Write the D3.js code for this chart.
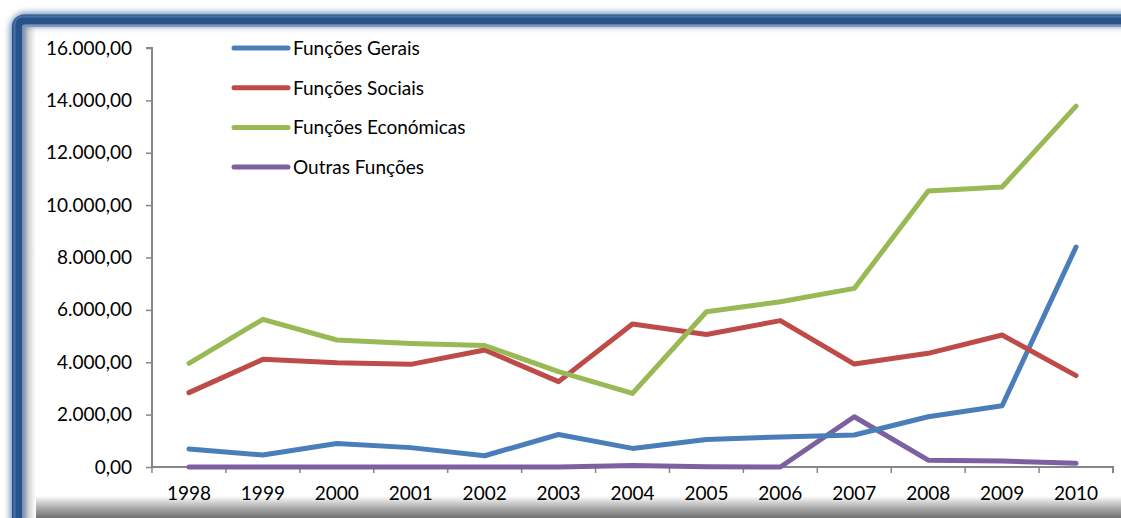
<!DOCTYPE html>
<html>
<head>
<meta charset="utf-8">
<script src="https://cdn.jsdelivr.net/npm/d3@7"></script>
<style>
  body { margin: 0; background: #fff; }
  #graph { width: 1121px; height: 518px; }
  text { font-family: Lato, "Open Sans", sans-serif; fill: #000; }
</style>
</head>
<body>
<div id="graph"></div>
<script>
var years = ["1998","1999","2000","2001","2002","2003","2004","2005","2006","2007","2008","2009","2010"]
var gerais = [690, 460, 900, 740, 430, 1240, 710, 1050, 1150, 1220, 1920, 2340, 8400]
var sociais = [2840, 4110, 3980, 3920, 4470, 3260, 5460, 5060, 5590, 3930, 4340, 5040, 3490]
var economicas = [3960, 5640, 4850, 4720, 4640, 3640, 2810, 5930, 6310, 6820, 10540, 10690, 13780]
var outras = [0, 0, 0, 0, 0, 0, 60, 10, 0, 1920, 260, 230, 140]
var seriesNames = ["Funções Gerais", "Funções Sociais", "Funções Económicas", "Outras Funções"]
var seriesColors = ["#4A7EBB", "#BE4B48", "#98B954", "#7D60A0"]
var yTicks = [0, 2000, 4000, 6000, 8000, 10000, 12000, 14000, 16000]

var width = 1121, height = 518
var margin = {top:48, left:152, bottom:51, right:8}
var chartWidth = 1113 - margin.left
var chartHeight = 467 - margin.top

var svg = d3.select("#graph").append("svg").attr("width", width).attr("height", height)
var defs = svg.append("defs")

function grad(id, x2, y2, stops) {
    var g = defs.append("linearGradient").attr("id", id)
        .attr("x1", 0).attr("y1", 0).attr("x2", x2).attr("y2", y2)
    stops.forEach(function(s) {
        g.append("stop").attr("offset", s[0]).attr("stop-color", s[1])
    })
}

function blur(id, sd) {
    defs.append("filter").attr("id", id)
        .attr("x", "-5%").attr("y", "-5%").attr("width", "110%").attr("height", "110%")
        .append("feGaussianBlur").attr("stdDeviation", sd)
}

function drawFrame() {
    blur("glow", 3)
    blur("soft", 0.7)
    grad("shadeLeft", 1, 0, [[0, "#8c8c8c"], [0.4, "#cfcfcf"], [1, "#ffffff"]])
    grad("shadeBottom", 0, 1, [[0, "#ffffff"], [0.5, "#b0b0b0"], [1, "#707070"]])

    // inner shading of the chart area
    svg.append("rect").attr("x", 22).attr("y", 496).attr("width", width - 22).attr("height", 22)
        .attr("fill", "url(#shadeBottom)")
    svg.append("rect").attr("x", 22).attr("y", 26).attr("width", 14).attr("height", height - 26)
        .attr("fill", "url(#shadeLeft)")
    svg.append("rect").attr("x", 22).attr("y", 25).attr("width", width - 22).attr("height", 2)
        .attr("fill", "#a0a0a0")

    // blue border with a soft outer glow
    svg.append("rect").attr("x", 17).attr("y", 19.5).attr("width", 1200).attr("height", 700)
        .attr("rx", 9).attr("fill", "none")
        .attr("stroke", "#6f90bd").attr("stroke-width", 14).attr("filter", "url(#glow)")
    svg.append("rect").attr("x", 17).attr("y", 19.5).attr("width", 1200).attr("height", 700)
        .attr("rx", 7).attr("fill", "none")
        .attr("stroke", "#27528a").attr("stroke-width", 10).attr("filter", "url(#soft)")
    svg.append("rect").attr("x", 14.5).attr("y", 16.5).attr("width", 1200).attr("height", 700)
        .attr("rx", 8).attr("fill", "none")
        .attr("stroke", "#4a71a6").attr("stroke-width", 2).attr("filter", "url(#soft)")
}

function drawChart() {
    var x = d3.scaleBand().domain(years).range([0, chartWidth])
    var y = d3.scaleLinear().domain([0, 16000]).range([chartHeight, 0])

    var chartLayer = svg.append("g").attr("transform", "translate(" + [margin.left, margin.top] + ")")

    var fmt = function(d) {
        return d3.format(",.2f")(d).replace(/,/g, " ").replace(".", ",").replace(/ /g, ".")
    }

    var yAxis = chartLayer.append("g")
        .call(d3.axisLeft(y).tickValues(yTicks).tickSize(6).tickPadding(14).tickFormat(fmt))
    yAxis.selectAll("text").attr("font-size", "19px")

    var xAxis = chartLayer.append("g").attr("transform", "translate(0," + chartHeight + ")")
        .call(d3.axisBottom(x).tickSize(0).tickPadding(20))
    xAxis.selectAll("text").attr("font-size", "19px").attr("dy", "0.68em")
    xAxis.selectAll(".tick line").remove()
    xAxis.append("g").selectAll("line")
        .data(years.concat(["end"]))
        .enter().append("line")
        .attr("x1", function(d, i) { return i * x.step() })
        .attr("x2", function(d, i) { return i * x.step() })
        .attr("y1", 0).attr("y2", 6)
        .attr("stroke", "#868686").attr("stroke-width", 1.5)

    svg.selectAll(".domain").attr("stroke", "#868686").attr("stroke-width", 2)
    yAxis.select(".domain").attr("d", "M-6,0H0V" + chartHeight)
    xAxis.select(".domain").attr("d", "M0,0H" + chartWidth + "V6")
    svg.selectAll(".tick line").attr("stroke", "#868686").attr("stroke-width", 1.5)
    svg.selectAll(".tick text").attr("font-family", "Lato, sans-serif").attr("fill", "#000")

    var line = d3.line()
        .x(function(d, i) { return x(years[i]) + x.bandwidth() / 2 })
        .y(function(d) { return y(d) })

    var data = [gerais, sociais, economicas, outras]
    var order = [3, 0, 1, 2]
    chartLayer.append("g").selectAll("path")
        .data(order)
        .enter().append("path")
        .attr("d", function(k) { return line(data[k]) })
        .attr("fill", "none")
        .attr("stroke", function(k) { return seriesColors[k] })
        .attr("stroke-width", 5)
        .attr("stroke-linejoin", "round")
        .attr("stroke-linecap", "round")

    var legend = svg.append("g").attr("transform", "translate(234,48)")
    var item = legend.selectAll("g")
        .data(seriesNames)
        .enter().append("g")
        .attr("transform", function(d, i) { return "translate(0," + (i * 39.7) + ")" })
    item.append("line")
        .attr("x1", 0).attr("x2", 54).attr("y1", 0).attr("y2", 0)
        .attr("stroke", function(d, i) { return seriesColors[i] })
        .attr("stroke-width", 5).attr("stroke-linecap", "round")
    item.append("text")
        .attr("x", 59).attr("dy", "0.36em")
        .attr("font-size", "19px")
        .text(function(d) { return d })
}

drawFrame()
drawChart()
</script>
</body>
</html>
